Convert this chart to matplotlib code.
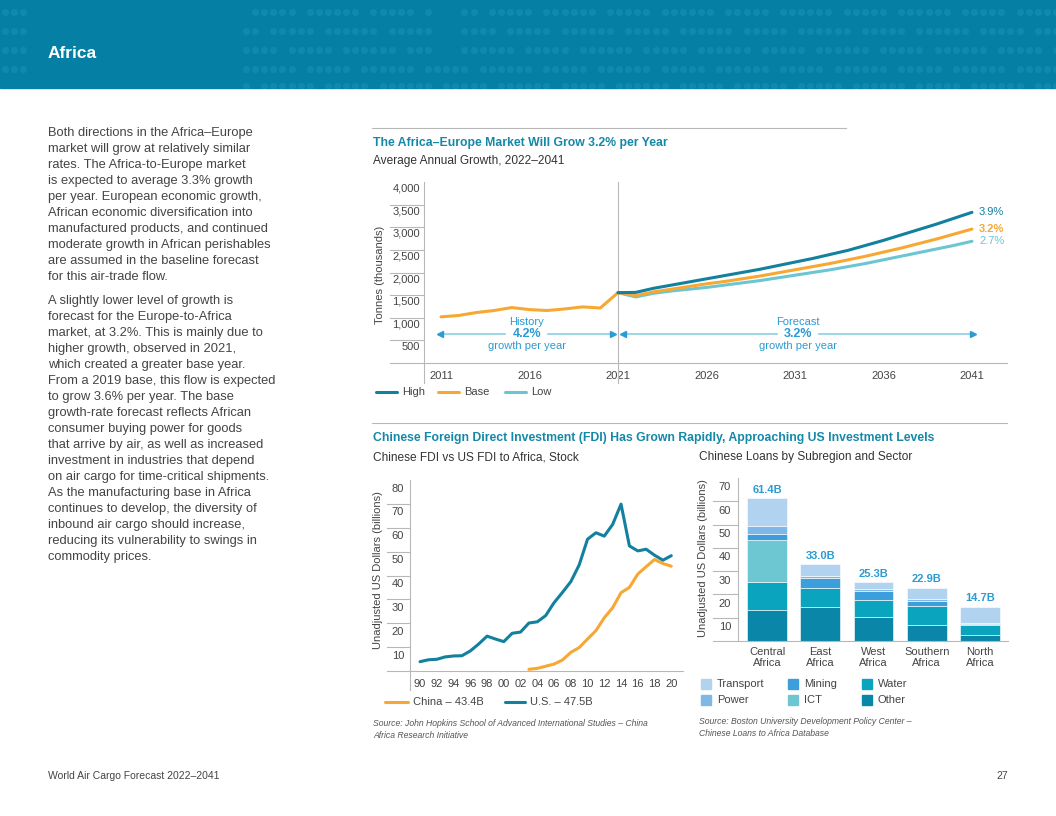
import matplotlib
matplotlib.use("Agg")
import matplotlib.pyplot as plt
from matplotlib.patches import Rectangle
from matplotlib.lines import Line2D

plt.rcParams['font.family'] = ['Liberation Sans', 'DejaVu Sans']

W, H = 1056, 816

# Africa-Europe market, tonnes (thousands)
hist_years = list(range(2011, 2022))
hist_base = [1020, 1050, 1115, 1160, 1225, 1180, 1160, 1195, 1240, 1215, 1555]
fc_years = list(range(2021, 2042))
fc_high = [1555, 1560, 1650, 1720, 1790, 1860, 1930, 2000, 2070, 2150, 2230,
           2310, 2400, 2490, 2600, 2710, 2830, 2950, 3070, 3200, 3330]
fc_base = [1555, 1490, 1570, 1630, 1690, 1750, 1800, 1860, 1920, 1990, 2060,
           2130, 2200, 2280, 2360, 2450, 2540, 2640, 2740, 2850, 2960]
fc_low = [1555, 1460, 1540, 1590, 1630, 1670, 1720, 1770, 1820, 1880, 1940,
          2000, 2060, 2130, 2200, 2280, 2360, 2440, 2520, 2600, 2690]
end_labels = ['3.9%', '3.2%', '2.7%']
market_legend = ['High', 'Base', 'Low']

# FDI stock, billions USD
us_years = list(range(1990, 2021))
us_fdi = [3.9, 4.7, 4.9, 5.9, 6.3, 6.4, 8.4, 11.3, 14.6, 13.4, 12.3, 15.8, 16.3,
          20.1, 20.6, 23.2, 28.6, 32.9, 37.4, 44.4, 55.2, 57.9, 56.5, 61.4, 69.9,
          52.4, 50.3, 51.0, 48.5, 46.4, 48.3]
cn_years = list(range(2003, 2021))
cn_fdi = [0.7, 1.1, 2.0, 2.9, 4.6, 7.8, 9.8, 13.4, 16.9, 22.3, 26.5, 32.8, 35.0,
          40.6, 43.7, 46.7, 45.0, 43.9]
fdi_years_ticks = list(range(1990, 2021, 2))
fdi_legend = ['China \u2013 43.4B', 'U.S. \u2013 47.5B']

# Chinese loans by subregion and sector, billions USD
regions = ['Central\nAfrica', 'East\nAfrica', 'West\nAfrica', 'Southern\nAfrica', 'North\nAfrica']
loan_other = [13.2, 14.7, 10.2, 6.8, 2.7]
loan_water = [12.3, 8.2, 7.4, 8.3, 4.1]
loan_ict = [17.7, 0.0, 0.0, 0.0, 0.0]
loan_mining = [2.7, 4.3, 4.0, 2.0, 0.3]
loan_power = [3.6, 0.9, 0.7, 0.9, 0.5]
loan_transport = [11.9, 4.9, 3.0, 4.9, 7.1]

body_p1 = [
    "Both directions in the Africa\u2013Europe",
    "market will grow at relatively similar",
    "rates. The Africa-to-Europe market",
    "is expected to average 3.3% growth",
    "per year. European economic growth,",
    "African economic diversification into",
    "manufactured products, and continued",
    "moderate growth in African perishables",
    "are assumed in the baseline forecast",
    "for this air-trade flow.",
]
body_p2 = [
    "A slightly lower level of growth is",
    "forecast for the Europe-to-Africa",
    "market, at 3.2%. This is mainly due to",
    "higher growth, observed in 2021,",
    "which created a greater base year.",
    "From a 2019 base, this flow is expected",
    "to grow 3.6% per year. The base",
    "growth-rate forecast reflects African",
    "consumer buying power for goods",
    "that arrive by air, as well as increased",
    "investment in industries that depend",
    "on air cargo for time-critical shipments.",
    "As the manufacturing base in Africa",
    "continues to develop, the diversity of",
    "inbound air cargo should increase,",
    "reducing its vulnerability to swings in",
    "commodity prices.",
]

# цвета
C_HEAD = '#0580A4'
C_DOT = '#1189AE'
C_TITLE = '#1488A8'
C_HIGH = '#13809F'
C_BASE = '#F7A833'
C_LOW = '#6CC5D3'
C_NOTE = '#2A9BD3'
C_ARROW = '#8BCFE2'
C_TEXT = '#444444'
C_AXIS = '#b8b8b8'
sector_colors = {'Transport': '#B2D3EF', 'Power': '#7FB8E6', 'Mining': '#3D9EDC',
                 'ICT': '#6CC7D3', 'Water': '#0BA4BE', 'Other': '#0A87A8'}

fig = plt.figure(figsize=(W / 100, H / 100), dpi=100)


def add_ax(l, t, r, b):
    return fig.add_axes([l / W, 1 - b / H, (r - l) / W, (b - t) / H])


def ftext(x, y, s, **kw):
    kw.setdefault('va', 'center')
    return fig.text(x / W, 1 - y / H, s, **kw)


def fline(x0, x1, y, **kw):
    fig.add_artist(Line2D([x0 / W, x1 / W], [1 - y / H, 1 - y / H], **kw))


def frame(ax, sep, levels, labels, dx, dy, vline_x, vline_lo):
    # оси в стиле отчёта: только базовая линия, разделители и подписи под ними
    for s in ax.spines.values():
        s.set_visible(False)
    yt = ax.get_yaxis_transform()
    ax.plot([sep, 1], [0, 0], transform=yt, color=C_AXIS, lw=0.8, clip_on=False)
    for v in levels:
        ax.plot([sep, 0], [v, v], transform=yt, color=C_AXIS, lw=0.8, clip_on=False)
    ax.axvline(vline_x, ymin=vline_lo, ymax=1, color=C_AXIS, lw=0.8, clip_on=False)
    ax.set_yticks([])
    for v, lab in labels:
        ax.annotate(lab, xy=(0, v), xycoords=yt, xytext=(dx, dy), textcoords='offset points',
                    ha='right', va='center', fontsize=8, color=C_TEXT)
    ax.tick_params(length=0, labelsize=8, labelcolor=C_TEXT)
    ax.patch.set_alpha(0)


# ---- header band
fig.add_artist(Rectangle((0, 1 - 88 / H), 1, 88 / H, transform=fig.transFigure,
                         color=C_HEAD, zorder=0))
hax = add_ax(0, 0, W, 88)
hax.set_xlim(0, W)
hax.set_ylim(88, 0)
hax.axis('off')
dx_, dy_ = [], []
for i, yy in enumerate([12, 31, 50, 69, 86]):
    for j in range(90):
        xx = 246 + j * 9.1
        if (i * 3 + j * 5) % 13 in (0, 4) or (20 < j < 24 and i < 3):
            continue
        dx_.append(xx)
        dy_.append(yy)
    if i < 4:
        for xx in (5, 14, 23):
            dx_.append(xx)
            dy_.append(yy)
hax.scatter(dx_, dy_, s=26, color=C_DOT, linewidths=0)
ftext(48, 54, 'Africa', color='white', fontsize=12.5, fontweight='bold')

# ---- body text
for k, line in enumerate(body_p1):
    ftext(48, 133 + 16 * k, line, fontsize=9.3, color=C_TEXT)
for k, line in enumerate(body_p2):
    ftext(48, 301 + 16 * k, line, fontsize=9.3, color=C_TEXT)

# ---- footer
ftext(48, 776, 'World Air Cargo Forecast 2022\u20132041', fontsize=7.5, color=C_TEXT)
ftext(1008, 776, '27', fontsize=7.5, color=C_TEXT, ha='right')

# ---- top chart
fline(372, 846, 128, color=C_AXIS, lw=0.8)
ftext(373, 143, 'The Africa\u2013Europe Market Will Grow 3.2% per Year',
      fontsize=8.8, fontweight='bold', color=C_TITLE)
ftext(373, 161, 'Average Annual Growth, 2022\u20132041', fontsize=8.6, color='#333333')

ax1 = add_ax(424, 182, 1007, 363)
x0, x1 = 2010.04, 2042.98
ax1.set_xlim(x0, x1)
ax1.set_ylim(0, 4000)
frame(ax1, -34 / 583, range(500, 4000, 500),
      [(v, f'{v:,}') for v in range(500, 4001, 500)], -3, -4.8, x0, -0.11)
ax1.axvline(2021, ymin=-0.11, ymax=1, color=C_AXIS, lw=0.8, clip_on=False)
ax1.set_xticks(range(2011, 2042, 5))
ax1.tick_params(axis='x', pad=6)
ftext(380, 275, 'Tonnes (thousands)', fontsize=8, color=C_TEXT, rotation=90, ha='center')

ax1.plot(hist_years, hist_base, color=C_BASE, lw=2.2, solid_capstyle='round')
ax1.plot(fc_years, fc_low, color=C_LOW, lw=2.2, solid_capstyle='round')
ax1.plot(fc_years, fc_base, color=C_BASE, lw=2.2, solid_capstyle='round')
ax1.plot(fc_years, fc_high, color=C_HIGH, lw=2.2, solid_capstyle='round')
for series, lab, col, wt in zip([fc_high, fc_base, fc_low], end_labels,
                                [C_HIGH, C_BASE, C_LOW], ['normal', 'bold', 'normal']):
    ax1.text(2041.4, series[-1], lab, color=col, fontsize=8, fontweight=wt, va='center')

arrow_y = 640
gap = 1.2
for a, b, t1, t2 in [(2010.95, 2020.72, 'History', '4.2%'),
                     (2021.28, 2041.05, 'Forecast', '3.2%')]:
    mid = (a + b) / 2
    ax1.plot([a, mid - gap], [arrow_y, arrow_y], color=C_ARROW, lw=1.2)
    ax1.plot([mid + gap, b], [arrow_y, arrow_y], color=C_ARROW, lw=1.2)
    ax1.plot([a], [arrow_y], marker='<', ms=4.5, color=C_NOTE, clip_on=False)
    ax1.plot([b], [arrow_y], marker='>', ms=4.5, color=C_NOTE, clip_on=False)
    ax1.annotate(t1, (mid, arrow_y), xytext=(0, 8.6), textcoords='offset points',
                 ha='center', va='center', fontsize=8, color=C_NOTE)
    ax1.annotate(t2, (mid, arrow_y), ha='center', va='center', fontsize=9,
                 fontweight='bold', color=C_NOTE)
    ax1.annotate('growth per year', (mid, arrow_y), xytext=(0, -8.6),
                 textcoords='offset points', ha='center', va='center',
                 fontsize=8, color=C_NOTE)

for lx, name, col in zip([376, 438, 505], market_legend, [C_HIGH, C_BASE, C_LOW]):
    fline(lx, lx + 21, 392, color=col, lw=2.2, solid_capstyle='round')
    ftext(lx + 26, 392, name, fontsize=8, color=C_TEXT)

# ---- bottom section
fline(372, 1007, 423, color=C_AXIS, lw=0.8)
ftext(373, 438, 'Chinese Foreign Direct Investment (FDI) Has Grown Rapidly, '
      'Approaching US Investment Levels', fontsize=8.8, fontweight='bold', color=C_TITLE)
ftext(373, 457, 'Chinese FDI vs US FDI to Africa, Stock', fontsize=8.6, color='#333333')
ftext(699, 457, 'Chinese Loans by Subregion and Sector', fontsize=8.6, color='#333333')

# FDI line chart
ax2 = add_ax(410, 480, 683, 671)
ax2.set_xlim(1988.8, 2021.4)
ax2.set_ylim(0, 80)
frame(ax2, -23 / 273, range(10, 80, 10),
      [(v, str(v)) for v in range(10, 81, 10)], -4.3, -6.2, 1988.8, -0.1)
ax2.set_xticks(fdi_years_ticks)
ax2.set_xticklabels([f'{y % 100:02d}' for y in fdi_years_ticks])
ax2.tick_params(axis='x', pad=6)
ftext(378, 570, 'Unadjusted US Dollars (billions)', fontsize=8, color=C_TEXT,
      rotation=90, ha='center')
ax2.plot(us_years, us_fdi, color=C_HIGH, lw=2.2, solid_capstyle='round')
ax2.plot(cn_years, cn_fdi, color=C_BASE, lw=2.2, solid_capstyle='round')

fline(385, 408, 702, color=C_BASE, lw=2.2, solid_capstyle='round')
ftext(413, 702, fdi_legend[0], fontsize=8, color=C_TEXT)
fline(505, 525, 702, color=C_HIGH, lw=2.2, solid_capstyle='round')
ftext(530, 702, fdi_legend[1], fontsize=8, color=C_TEXT)
ftext(373, 723, 'Source: John Hopkins School of Advanced International Studies \u2013 China',
      fontsize=6.2, style='italic', color='#555555')
ftext(373, 735, 'Africa Research Initiative', fontsize=6.2, style='italic', color='#555555')

# loans stacked bar chart
ax3 = add_ax(738, 478, 1008, 641)
ax3.set_xlim(-0.545, 4.526)
ax3.set_ylim(0, 70)
frame(ax3, -25 / 270, range(10, 70, 10),
      [(v, str(v)) for v in range(10, 71, 10)], -5, -6.8, -0.545, 0)

xs = list(range(len(regions)))
bottom = [0.0] * len(regions)
stack = [('Other', loan_other), ('Water', loan_water), ('ICT', loan_ict),
         ('Mining', loan_mining), ('Power', loan_power), ('Transport', loan_transport)]
for name, vals in stack:
    ax3.bar(xs, vals, width=0.75, bottom=bottom, color=sector_colors[name],
            edgecolor='white', linewidth=0.4)
    bottom = [b + v for b, v in zip(bottom, vals)]
for x, tot in zip(xs, bottom):
    ax3.annotate(f'{tot:.1f}B', (x, tot), xytext=(0, 2.5), textcoords='offset points',
                 ha='center', va='bottom', fontsize=8, fontweight='bold', color=C_NOTE)
ax3.set_xticks(xs)
ax3.set_xticklabels(regions)
ax3.tick_params(axis='x', pad=4)
ftext(703, 558, 'Unadjusted US Dollars (billions)', fontsize=8, color=C_TEXT,
      rotation=90, ha='center')

for (sx, sy), name in zip([(706, 684), (706, 700), (793, 684), (793, 700), (867, 684), (867, 700)],
                          ['Transport', 'Power', 'Mining', 'ICT', 'Water', 'Other']):
    fig.add_artist(Rectangle(((sx - 5) / W, 1 - (sy + 5) / H), 10 / W, 10 / H,
                             transform=fig.transFigure, color=sector_colors[name]))
    ftext(sx + 11, sy, name, fontsize=8, color=C_TEXT)
ftext(699, 722, 'Source: Boston University Development Policy Center \u2013',
      fontsize=6.2, style='italic', color='#555555')
ftext(699, 734, 'Chinese Loans to Africa Database', fontsize=6.2, style='italic', color='#555555')

fig.savefig('out.png', dpi=100)
